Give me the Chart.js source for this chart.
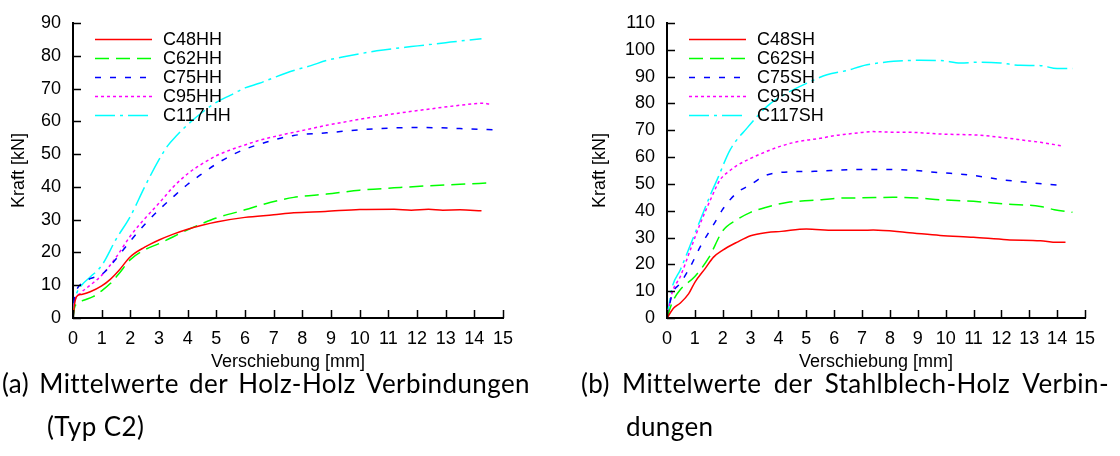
<!DOCTYPE html>
<html lang="de">
<head>
<meta charset="UTF-8">
<title>Mittelwerte Kraft-Verschiebung</title>
<script src="https://cdn.jsdelivr.net/npm/chart.js"></script>
<style>
    body {
        margin: 0;
        width: 1120px;
        height: 456px;
        background: #fff;
        position: relative;
        overflow: hidden;
    }
    canvas {
        position: absolute;
        top: 0;
    }
    #chartHH { left: 0; }
    #chartSH { left: 560px; }
    .caption {
        position: absolute;
        top: 362px;
        width: 528px;
        font-family: Lato, sans-serif;
        font-size: 26px;
        letter-spacing: 0.4px;
        line-height: 43px;
        color: #000;
    }
    /* first line is justified: words spread over the full width */
    .caption .first {
        display: flex;
        justify-content: space-between;
        white-space: nowrap;
    }
    .caption .rest {
        padding-left: 45px;
    }
</style>
</head>
<body>
<canvas id="chartHH" width="520" height="380"></canvas>
<canvas id="chartSH" width="560" height="380"></canvas>

<div class="caption" style="left: 2px;">
    <div class="first"><span>(a)</span><span>Mittelwerte</span><span>der</span><span>Holz-Holz</span><span>Verbindungen</span></div>
    <div class="rest">(Typ C2)</div>
</div>
<div class="caption" style="left: 581px;">
    <div class="first"><span>(b)</span><span>Mittelwerte</span><span>der</span><span>Stahlblech-Holz</span><span>Verbin-</span></div>
    <div class="rest">dungen</div>
</div>

<script>
// Holz-Holz (HH): Verschiebung [mm] / Kraft [kN]
const c48hhX = [0, 0.05, 0.12, 0.3, 0.6, 1.0, 1.3, 1.6, 2.0, 2.5, 3.0, 3.5, 4.0, 4.5, 5.0, 6.0, 7.0, 7.7, 8.8, 10.0, 11.2, 11.8, 12.4, 12.9, 13.5, 14.25];
const c48hhY = [0, 4, 6.5, 7.2, 8, 9.8, 11.8, 14.5, 18.7, 21.6, 23.8, 25.6, 27.1, 28.3, 29.3, 30.7, 31.5, 32.1, 32.5, 33.1, 33.2, 32.9, 33.2, 32.9, 33.0, 32.7];

const c62hhX = [0, 0.05, 0.15, 0.4, 0.7, 1.0, 1.3, 1.6, 2.0, 2.5, 3.0, 3.5, 4.0, 4.5, 5.0, 6.0, 6.9, 7.7, 8.85, 10.0, 11.2, 12.3, 13.5, 14.5];
const c62hhY = [0, 3, 4.5, 5.5, 6.5, 8.3, 10.5, 13.5, 17.8, 20.8, 22.7, 24.8, 26.9, 28.8, 30.5, 33, 35.3, 36.8, 37.8, 39, 39.7, 40.3, 40.8, 41.2];

const c75hhX = [0, 0.05, 0.15, 0.3, 0.6, 1.0, 1.5, 2.0, 2.5, 3.0, 3.5, 4.0, 4.5, 5.0, 5.5, 6.0, 6.5, 7.0, 7.7, 8.85, 10.0, 11.2, 12.3, 13.5, 14.7];
const c75hhY = [0, 6, 9, 10.5, 12, 13.3, 18, 23.5, 28.5, 33, 37, 40.8, 44, 47, 49.5, 51.5, 53, 54.3, 55.7, 56.5, 57.4, 58, 58.1, 57.8, 57.4];

const c95hhX = [0, 0.05, 0.25, 0.6, 1.0, 1.5, 2.0, 2.5, 3.0, 3.5, 4.0, 4.5, 5.0, 5.5, 6.0, 6.5, 7.2, 8.0, 8.85, 10.0, 11.2, 12.3, 13.5, 14.25, 14.53];
const c95hhY = [0, 4.5, 7.5, 10, 13, 18.5, 25, 30.3, 35, 40, 44, 47, 49.5, 51.3, 52.8, 54.2, 55.7, 57.2, 58.8, 60.6, 62.3, 63.6, 64.9, 65.5, 65.3];

const c117hhX = [0, 0.05, 0.15, 0.3, 0.6, 1.0, 1.5, 2.0, 2.5, 3.0, 3.3, 3.6, 4.0, 4.5, 5.0, 5.5, 6.0, 6.5, 7.0, 7.7, 8.3, 8.85, 9.4, 10.0, 10.6, 11.2, 11.8, 12.3, 13.0, 13.5, 14.25];
const c117hhY = [0, 5, 8, 10, 12.5, 16, 24, 31, 40, 48.3, 52.5, 55.5, 59, 62.7, 65.8, 68, 70.2, 71.6, 73.3, 75.5, 77, 78.6, 79.6, 80.6, 81.5, 82.2, 82.8, 83.3, 84, 84.5, 85.2];

// Stahlblech-Holz (SH)
const c48shX = [0, 0.24, 0.48, 0.78, 1.0, 1.38, 1.67, 2.0, 2.5, 3.0, 3.6, 4.1, 5.0, 6.0, 7.0, 7.4, 8.6, 9.8, 11.0, 12.2, 13.4, 14.0, 14.3];
const c48shY = [0, 3.7, 5.6, 9.1, 13.3, 18.6, 22.7, 25.3, 28.2, 30.7, 31.9, 32.3, 33.2, 32.7, 32.7, 32.8, 31.9, 30.8, 30.1, 29.2, 28.8, 28.2, 28.2];

const c62shX = [0, 0.18, 0.48, 1.0, 1.5, 2.0, 2.5, 3.0, 3.6, 4.3, 5.3, 6.2, 7.0, 8.1, 9.0, 9.8, 11.0, 12.2, 13.4, 13.9, 14.55];
const c62shY = [0, 5.6, 10.6, 15.5, 22.5, 32.5, 36.6, 39.4, 41.4, 43.1, 43.9, 44.7, 44.8, 45, 44.7, 44.1, 43.5, 42.5, 41.6, 40.4, 39.4];

const c75shX = [0, 0.18, 0.48, 0.84, 1.2, 1.67, 2.03, 2.5, 3.0, 3.5, 4.1, 5.3, 6.5, 7.5, 8.6, 9.8, 10.8, 12.0, 12.9, 14.17];
const c75shY = [0, 8.7, 13, 19.2, 26.7, 34.8, 41, 46.6, 49.7, 53, 54.3, 54.7, 55.3, 55.4, 55.2, 54.2, 53.4, 51.6, 50.6, 49.4];

const c95shX = [0, 0.18, 0.48, 0.84, 1.2, 1.56, 1.91, 2.2, 2.5, 3.0, 3.5, 4.0, 4.5, 5.0, 5.5, 6.0, 6.5, 7.0, 7.4, 8.0, 8.6, 9.2, 9.8, 10.5, 11.0, 11.6, 12.2, 12.8, 13.4, 14.17];
const c95shY = [0, 9.3, 15.5, 25.5, 35.4, 44.1, 51.6, 54.5, 56.8, 59.5, 61.8, 63.8, 65.3, 66.3, 67, 68, 68.6, 69.2, 69.5, 69.3, 69.3, 69, 68.6, 68.4, 68.3, 67.8, 67.1, 66.3, 65.5, 64.2];

const c117shX = [0, 0.18, 0.48, 0.84, 1.2, 1.56, 1.8, 2.27, 2.87, 3.59, 4.31, 5.03, 5.74, 6.46, 6.94, 7.18, 8.13, 9.09, 9.81, 10.53, 11.25, 11.97, 12.68, 13.4, 14.0, 14.55];
const c117shY = [0, 11.2, 18, 27.3, 36.7, 46, 51.6, 62.8, 70.8, 78.9, 83.9, 87.6, 90.7, 92.3, 93.8, 94.4, 95.7, 96.1, 96, 95.1, 95.4, 95.1, 94.2, 94.1, 93, 93];

// gnuplot-like line types: colour + dash pattern
const styles = [
    { color: '#ff0000', dash: [] },
    { color: '#00ff00', dash: [14, 7] },
    { color: '#0000ff', dash: [6, 9] },
    { color: '#ff00ff', dash: [3, 3] },
    { color: '#00ffff', dash: [20, 5, 3, 5] }
];

Chart.defaults.font.family = "'Liberation Sans', Arial, sans-serif";
Chart.defaults.font.size = 18;
Chart.defaults.color = '#000';

function zip(xs, ys) {
    return xs.map((x, i) => ({ x: x, y: ys[i] }));
}

function series(label, xs, ys, idx) {
    return {
        label: label,
        data: zip(xs, ys),
        borderColor: styles[idx].color,
        backgroundColor: styles[idx].color,
        borderDash: styles[idx].dash,
        borderWidth: 1.5,
        pointRadius: 0,
        fill: false,
        cubicInterpolationMode: 'monotone'
    };
}

// small tick marks pointing into the plot, like gnuplot's default
const inwardTicks = {
    id: 'inwardTicks',
    afterDatasetsDraw(chart) {
        const { ctx, chartArea, scales: { x, y } } = chart;
        ctx.save();
        ctx.strokeStyle = '#000';
        ctx.lineWidth = 1.5;
        ctx.beginPath();
        x.ticks.forEach(t => {
            const px = Math.round(x.getPixelForValue(t.value)) + 0.5;
            ctx.moveTo(px, chartArea.bottom);
            ctx.lineTo(px, chartArea.bottom - 8);
        });
        y.ticks.forEach(t => {
            const py = Math.round(y.getPixelForValue(t.value)) + 0.5;
            ctx.moveTo(chartArea.left, py);
            ctx.lineTo(chartArea.left + 8, py);
        });
        ctx.stroke();
        ctx.restore();
    }
};

// key in the upper left corner of the plot: line sample, then label
const lineKey = {
    id: 'lineKey',
    afterDatasetsDraw(chart) {
        const { ctx, chartArea } = chart;
        const x0 = chartArea.left + 22;
        ctx.save();
        ctx.font = "18px 'Liberation Sans', Arial, sans-serif";
        ctx.textBaseline = 'middle';
        ctx.textAlign = 'left';
        chart.data.datasets.forEach((ds, i) => {
            const yy = chartArea.top + 16.5 + i * 19;
            ctx.strokeStyle = ds.borderColor;
            ctx.lineWidth = 1.5;
            ctx.setLineDash(ds.borderDash);
            ctx.beginPath();
            ctx.moveTo(x0, yy);
            ctx.lineTo(x0 + 57, yy);
            ctx.stroke();
            ctx.setLineDash([]);
            ctx.fillStyle = '#000';
            ctx.fillText(ds.label, x0 + 68, yy + 1);
        });
        ctx.restore();
    }
};

function makeChart(id, datasets, yMax, yAxisWidth, yTitlePad, rightPad) {
    return new Chart(document.getElementById(id), {
        type: 'line',
        data: { datasets: datasets },
        plugins: [inwardTicks, lineKey],
        options: {
            responsive: false,
            animation: false,
            layout: { padding: { top: 23, right: rightPad, bottom: 0, left: 0 } },
            plugins: {
                legend: { display: false },
                tooltip: { enabled: false }
            },
            scales: {
                x: {
                    type: 'linear',
                    min: 0,
                    max: 15,
                    grid: { display: false, drawTicks: false },
                    border: { display: true, color: '#000', width: 2 },
                    ticks: { stepSize: 1, padding: 10, autoSkip: false, maxRotation: 0 },
                    title: { display: true, text: 'Verschiebung [mm]', padding: { top: 0, bottom: 7 } },
                    afterFit(scale) {
                        scale.height = 62;
                        scale.paddingLeft = 0;
                        scale.paddingRight = 0;
                    }
                },
                y: {
                    type: 'linear',
                    min: 0,
                    max: yMax,
                    grid: { display: false, drawTicks: false },
                    border: { display: true, color: '#000', width: 2 },
                    ticks: { stepSize: 10, padding: 12 },
                    title: { display: true, text: 'Kraft [kN]', padding: { top: yTitlePad, bottom: 0 } },
                    afterFit(scale) {
                        scale.width = yAxisWidth;
                        scale.paddingTop = 0;
                        scale.paddingBottom = 0;
                    }
                }
            }
        }
    });
}

makeChart('chartHH', [
    series('C48HH', c48hhX, c48hhY, 0),
    series('C62HH', c62hhX, c62hhY, 1),
    series('C75HH', c75hhX, c75hhY, 2),
    series('C95HH', c95hhX, c95hhY, 3),
    series('C117HH', c117hhX, c117hhY, 4)
], 90, 73, 8, 17);

makeChart('chartSH', [
    series('C48SH', c48shX, c48shY, 0),
    series('C62SH', c62shX, c62shY, 1),
    series('C75SH', c75shX, c75shY, 2),
    series('C95SH', c95shX, c95shY, 3),
    series('C117SH', c117shX, c117shY, 4)
], 110, 107, 29, 35);
</script>
</body>
</html>
